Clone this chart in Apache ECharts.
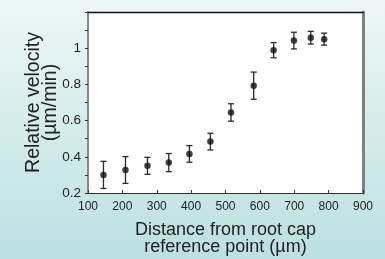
<!DOCTYPE html>
<html>
<head>
<meta charset="utf-8">
<script src="https://cdn.jsdelivr.net/npm/echarts@6/dist/echarts.min.js"></script>
<style>
  html, body { margin: 0; padding: 0; }
  #main { width: 385px; height: 259px; }
</style>
</head>
<body>
<div id="main"></div>
<script>
// distance from root cap reference point (µm)
var distance = [145, 209, 273, 335, 395, 456, 516, 582, 640, 699, 748, 787];
// relative velocity (µm/min) and error half-widths
var velocity = [0.300, 0.327, 0.350, 0.368, 0.416, 0.484, 0.645, 0.793, 0.989, 1.042, 1.058, 1.050];
var velErr   = [0.075, 0.074, 0.047, 0.050, 0.046, 0.046, 0.048, 0.075, 0.042, 0.046, 0.035, 0.033];

var font = 'Liberation Sans, Arial, sans-serif';

var points = distance.map(function (d, i) { return [d, velocity[i]]; });
var bars = distance.map(function (d, i) { return [d, velocity[i] - velErr[i], velocity[i] + velErr[i]]; });

var chart = echarts.init(document.getElementById('main'));
chart.setOption({
    animation: false,
    backgroundColor: {
        type: 'linear', x: 0, y: 0, x2: 0, y2: 1,
        colorStops: [{ offset: 0, color: '#eef7f7' }, { offset: 1, color: '#bce0e0' }]
    },
    grid: {
        left: 88, right: 22, top: 12, bottom: 66,
        outerBoundsMode: 'none',
        show: true, backgroundColor: '#fff', borderWidth: 0
    },
    xAxis: [{
        type: 'value', min: 100, max: 900, interval: 100,
        name: 'Distance from root cap\nreference point (µm)',
        nameLocation: 'middle', nameGap: 29, nameMoveOverlap: false,
        nameTextStyle: { fontFamily: font, fontSize: 18, color: '#222', lineHeight: 17 },
        axisLine: { lineStyle: { color: '#333', width: 1.2 } },
        axisTick: { inside: true, length: 3, lineStyle: { color: '#333' } },
        axisLabel: { fontFamily: font, fontSize: 12, color: '#222', margin: 8 },
        splitLine: { show: false }
    }, {
        type: 'value', min: 100, max: 900, position: 'top',
        axisLine: { show: true, lineStyle: { color: '#111', width: 1.3 } },
        axisTick: { show: false }, axisLabel: { show: false }, splitLine: { show: false }
    }],
    yAxis: [{
        type: 'value', min: 0.2, max: 1.2, interval: 0.1,
        name: 'Relative velocity\n(µm/min)',
        nameLocation: 'middle', nameGap: 29, nameRotate: 90, nameMoveOverlap: false,
        nameTextStyle: { fontFamily: font, fontSize: 19.5, color: '#222', lineHeight: 17 },
        axisLine: { show: true, lineStyle: { color: '#888', width: 2 } },
        axisTick: { length: 3, lineStyle: { color: '#333' } },
        axisLabel: {
            fontFamily: font, fontSize: 13.5, color: '#222', margin: 7,
            padding: [0, 0, 8, 0],
            formatter: function (v) {
                var k = Math.round(v * 10);
                if (k % 2 !== 0 || k > 10) return '';
                return k === 10 ? '1' : (k / 10).toFixed(1);
            }
        },
        splitLine: { show: false }
    }, {
        type: 'value', min: 0.2, max: 1.2, position: 'right',
        axisLine: { show: true, lineStyle: { color: '#808080', width: 3 } },
        axisTick: { show: false }, axisLabel: { show: false }, splitLine: { show: false }
    }],
    series: [{
        type: 'custom',
        data: bars,
        renderItem: function (params, api) {
            var x = api.value(0);
            var lo = api.coord([x, api.value(1)]);
            var hi = api.coord([x, api.value(2)]);
            var w = 3;
            var style = { stroke: '#2a2a2a', lineWidth: 1.3 };
            return {
                type: 'group',
                children: [
                    { type: 'line', shape: { x1: lo[0], y1: lo[1], x2: hi[0], y2: hi[1] }, style: style },
                    { type: 'line', shape: { x1: lo[0] - w, y1: lo[1], x2: lo[0] + w, y2: lo[1] }, style: style },
                    { type: 'line', shape: { x1: hi[0] - w, y1: hi[1], x2: hi[0] + w, y2: hi[1] }, style: style }
                ]
            };
        },
        z: 2
    }, {
        type: 'scatter',
        data: points,
        symbol: 'circle',
        symbolSize: 6.5,
        itemStyle: { color: '#111' },
        z: 3
    }]
});
</script>
</body>
</html>
